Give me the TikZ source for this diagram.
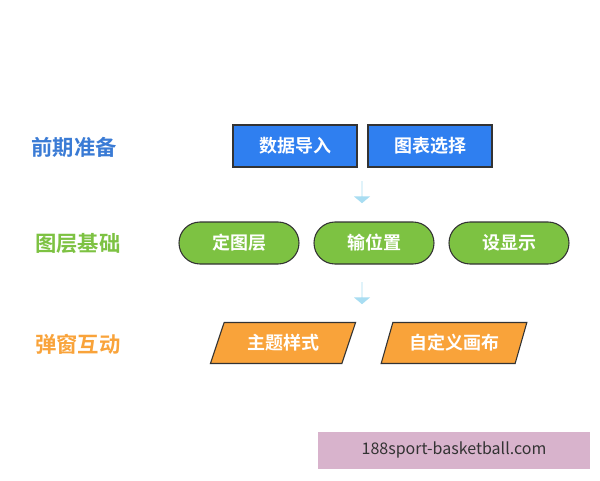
\documentclass[tikz,border=0pt]{standalone}
\usepackage{fontspec}
\setmainfont{Noto Sans CJK SC}
\newfontfamily\cjkb{Noto Sans CJK SC Bold}
\usetikzlibrary{shapes.geometric,shapes.arrows}
\definecolor{cblue}{HTML}{2F7FF0}
\definecolor{tblue}{HTML}{3A7BD5}
\definecolor{cgreen}{HTML}{7DC242}
\definecolor{corange}{HTML}{F9A33A}
\definecolor{tbord}{HTML}{333333}
\definecolor{arr}{HTML}{A8DDF2}
\definecolor{wm}{HTML}{D8B3CC}
\newlength{\pxu}\setlength{\pxu}{0.75pt}
\tikzset{
  lab/.style={font=\cjkb\fontsize{16}{19}\selectfont},
  rbox/.style={draw=tbord,line width=0.8pt,fill=cblue,text=white,minimum width=124\pxu,minimum height=42\pxu,font=\cjkb\fontsize{13.5}{16}\selectfont},
  gbox/.style={rbox,fill=cgreen,rounded corners=21\pxu,minimum width=120\pxu},
  obox/.style={draw=tbord,line width=0.8pt,fill=corange,text=white,trapezium,trapezium stretches=true,trapezium left angle=70,trapezium right angle=110,minimum width=146\pxu,minimum height=41\pxu,font=\cjkb\fontsize{13.5}{16}\selectfont},
  darr/.style={single arrow,shape border rotate=270,fill=arr,draw=none,minimum width=16\pxu,minimum height=22\pxu,single arrow head extend=5\pxu,inner sep=0pt,single arrow tip angle=100}
}
\begin{document}
\begin{tikzpicture}[x=0.75pt,y=-0.75pt]
\useasboundingbox[fill=white] (0,0) rectangle (600,480);
\node[lab,text=tblue] (l1) at (74,147) {前期准备};
\node[lab,text=cgreen] (l2) at (78,244) {图层基础};
\node[lab,text=corange] (l3) at (78,344) {弹窗互动};
\node[rbox] (a1) at (295,146) {数据导入};
\node[rbox] (a2) at (430,146) {图表选择};
\node[darr] (d1) at (362,192) {};
\node[gbox] (b1) at (239,243) {定图层};
\node[gbox] (b2) at (374,243) {输位置};
\node[gbox] (b3) at (509,243) {设显示};
\node[darr] (d2) at (362,293) {};
\node[obox] (c1) at (283,343) {主题样式};
\node[obox] (c2) at (454,343) {自定义画布};
\fill[wm] (318,432) rectangle (590,469);
\node[font=\fontsize{12}{14}\selectfont,text=tbord] (w) at (454,450) {188sport-basketball.com};
\end{tikzpicture}
\end{document}
